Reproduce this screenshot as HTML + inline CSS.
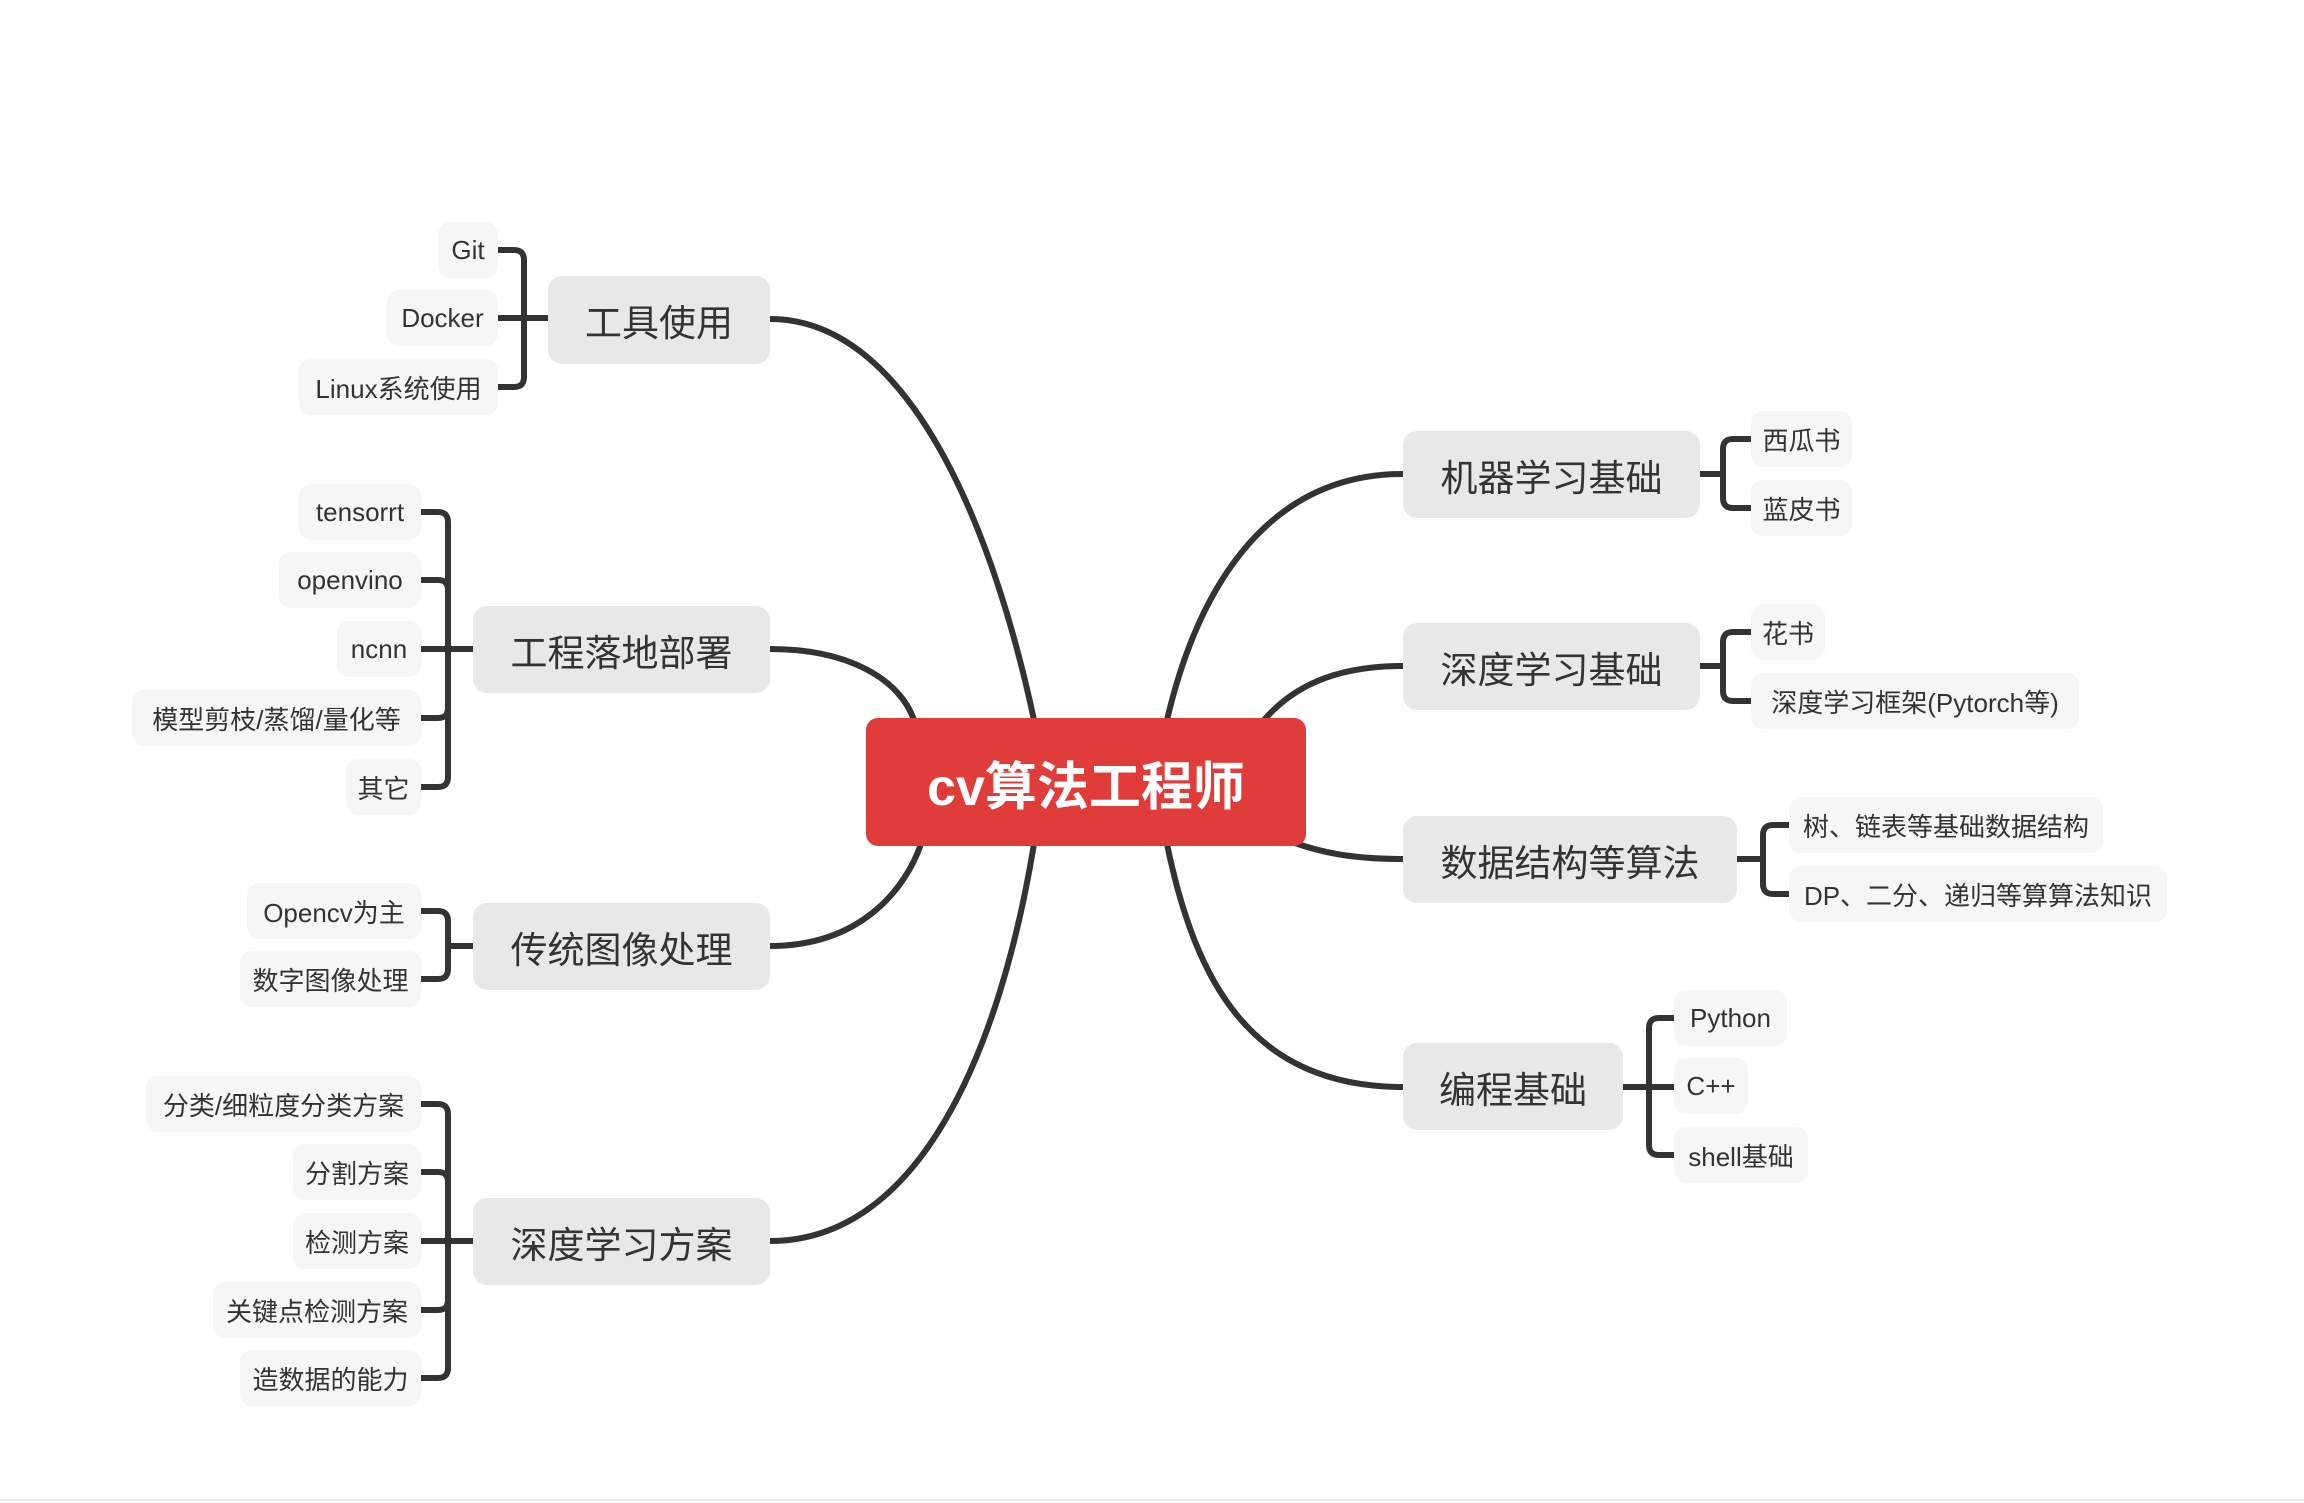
<!DOCTYPE html>
<html><head><meta charset="utf-8"><style>
html,body{margin:0;padding:0;background:#fff;}
body{width:2304px;height:1503px;position:relative;overflow:hidden;font-family:"Liberation Sans","Noto Sans CJK SC",sans-serif;color:#333;}
.b{position:absolute;display:flex;align-items:center;justify-content:center;white-space:nowrap;box-sizing:border-box;}
.m{background:#e8e8e8;border-radius:14px;font-size:37px;}
.l{background:#f6f6f6;border-radius:12px;font-size:26px;height:56px;}
.c{background:#e03c3a;border-radius:12px;color:#fff;font-size:52px;font-weight:bold;}
svg{position:absolute;left:0;top:0;}
</style></head><body>
<svg width="2304" height="1503" fill="none" stroke="#333" stroke-width="6" stroke-linecap="round">
<path d="M770,319 C920,319 1000,560 1034,720"/>
<path d="M1034,844 C1000,1050 920,1241 770,1241"/>
<path d="M770,649 C850,649 900,680 914,720"/>
<path d="M770,946 C860,946 905,890 921,844"/>
<path d="M1403,474 C1260,474 1195,600 1167,720"/>
<path d="M1403,666 C1330,666 1290,690 1264,720"/>
<path d="M1403,859 C1350,859 1320,852 1292,842"/>
<path d="M1403,1087 C1250,1087 1195,980 1167,844"/>
<!-- brackets left -->
<path d="M498,250 H514 Q524,250 524,260 V377 Q524,387 514,387 H498 M498,318 H548"/>
<path d="M421,512 H438 Q448,512 448,522 V777 Q448,787 438,787 H421 M421,580 H438 Q448,580 448,590 M421,718 H438 Q448,718 448,708 M421,649 H473"/>
<path d="M421,911 H438 Q448,911 448,921 V969 Q448,979 438,979 H421 M448,946 H473"/>
<path d="M421,1104 H438 Q448,1104 448,1114 V1368 Q448,1378 438,1378 H421 M421,1172 H438 Q448,1172 448,1182 M421,1310 H438 Q448,1310 448,1300 M421,1241 H473"/>
<!-- brackets right -->
<path d="M1751,439 H1733 Q1723,439 1723,449 V498 Q1723,508 1733,508 H1751 M1700,474 H1723"/>
<path d="M1751,632 H1733 Q1723,632 1723,642 V691 Q1723,701 1733,701 H1751 M1700,666 H1723"/>
<path d="M1789,825 H1773 Q1763,825 1763,835 V884 Q1763,894 1773,894 H1789 M1737,859 H1763"/>
<path d="M1674,1018 H1659 Q1649,1018 1649,1028 V1145 Q1649,1155 1659,1155 H1674 M1623,1087 H1674"/>
</svg>
<div style="position:absolute;left:0;top:1499px;width:2304px;height:2px;background:#eee"></div>

<div class="b c" style="left:866px;top:718px;width:440px;height:128px;">cv算法工程师</div>

<div class="b m" style="left:548px;top:276px;width:222px;height:88px;">工具使用</div>
<div class="b l" style="left:438px;top:222px;width:60px;">Git</div>
<div class="b l" style="left:387px;top:290px;width:111px;">Docker</div>
<div class="b l" style="left:299px;top:359px;width:199px;">Linux系统使用</div>

<div class="b m" style="left:473px;top:606px;width:297px;height:87px;">工程落地部署</div>
<div class="b l" style="left:299px;top:484px;width:122px;">tensorrt</div>
<div class="b l" style="left:279px;top:552px;width:142px;">openvino</div>
<div class="b l" style="left:337px;top:621px;width:84px;">ncnn</div>
<div class="b l" style="left:132px;top:690px;width:289px;">模型剪枝/蒸馏/量化等</div>
<div class="b l" style="left:346px;top:759px;width:75px;">其它</div>

<div class="b m" style="left:473px;top:903px;width:297px;height:87px;">传统图像处理</div>
<div class="b l" style="left:247px;top:883px;width:174px;">Opencv为主</div>
<div class="b l" style="left:240px;top:951px;width:181px;">数字图像处理</div>

<div class="b m" style="left:473px;top:1198px;width:297px;height:87px;">深度学习方案</div>
<div class="b l" style="left:146px;top:1076px;width:275px;">分类/细粒度分类方案</div>
<div class="b l" style="left:293px;top:1144px;width:128px;">分割方案</div>
<div class="b l" style="left:293px;top:1213px;width:128px;">检测方案</div>
<div class="b l" style="left:213px;top:1282px;width:208px;">关键点检测方案</div>
<div class="b l" style="left:240px;top:1350px;width:181px;">造数据的能力</div>

<div class="b m" style="left:1403px;top:431px;width:297px;height:87px;">机器学习基础</div>
<div class="b l" style="left:1751px;top:411px;width:101px;">西瓜书</div>
<div class="b l" style="left:1751px;top:480px;width:101px;">蓝皮书</div>

<div class="b m" style="left:1403px;top:623px;width:297px;height:87px;">深度学习基础</div>
<div class="b l" style="left:1751px;top:604px;width:74px;">花书</div>
<div class="b l" style="left:1751px;top:673px;width:328px;">深度学习框架(Pytorch等)</div>

<div class="b m" style="left:1403px;top:816px;width:334px;height:87px;">数据结构等算法</div>
<div class="b l" style="left:1789px;top:797px;width:314px;">树、链表等基础数据结构</div>
<div class="b l" style="left:1789px;top:866px;width:378px;">DP、二分、递归等算算法知识</div>

<div class="b m" style="left:1403px;top:1043px;width:220px;height:87px;">编程基础</div>
<div class="b l" style="left:1674px;top:990px;width:113px;">Python</div>
<div class="b l" style="left:1674px;top:1058px;width:74px;">C++</div>
<div class="b l" style="left:1674px;top:1127px;width:134px;">shell基础</div>
</body></html>
